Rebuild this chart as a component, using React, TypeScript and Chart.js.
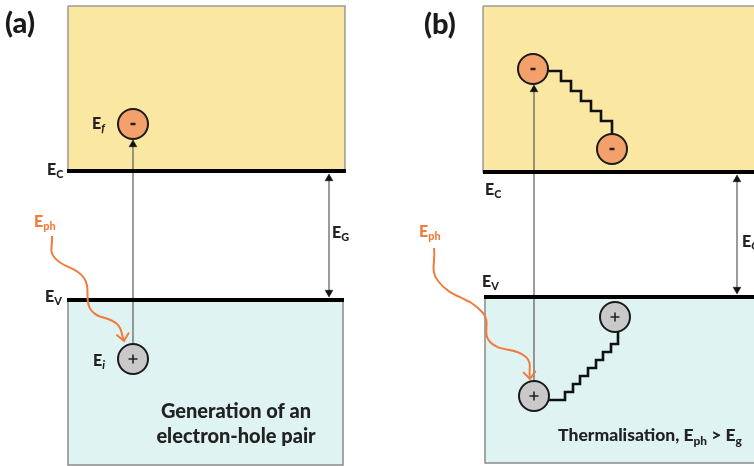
import { useEffect, useRef } from "react";
import { Chart, registerables } from "chart.js";

Chart.register(...registerables);

const WIDTH = 754;
const HEIGHT = 466;
const FONT = "Lato, 'Open Sans', sans-serif";

// Energy bands as [xLeft, xRight, yTop, yBottom] in diagram units
const conductionBands = [
  [68, 345, 6, 171],
  [483, 762, 6, 172],
];
const valenceBands = [
  [68, 343, 300, 465],
  [485, 762, 297, 463],
];

// Band edges E_C and E_V: [xLeft, xRight, y]
const bandEdges = [
  [67, 346, 171],
  [67, 344, 300],
  [483, 760, 172],
  [484, 760, 297],
];

// Electrons and holes
const electronX = [133, 533, 612];
const electronY = [124, 69, 149];
const holeX = [133, 534, 615];
const holeY = [359, 396, 317];

// Excitation arrows (hole -> electron)
const excitationX = [133, 534];
const excitationFrom = [344, 381];
const excitationTo = [140, 85];

// Band-gap double arrows
const gapX = [329, 737];
const gapTop = [174, 175];
const gapBottom = [297, 294];

// Incoming photon paths
const photonPathA = [
  [52, 236], [54, 257], [84, 278], [91, 310], [117, 324], [124, 341],
];
const photonPathB = [
  [434, 248], [438, 281], [483, 313], [490, 342], [526, 357], [530, 379],
];

// Thermalisation staircases
const electronRelaxation = [
  [548, 71], [561, 71], [561, 81], [571, 81], [571, 91], [581, 91],
  [581, 101], [591, 101], [591, 111], [601, 111], [601, 121], [612, 121],
  [612, 134],
];
const holeRelaxation = [
  [549, 400], [565, 400], [565, 392], [573, 392], [573, 384], [580, 384],
  [580, 376], [588, 376], [588, 368], [596, 368], [596, 360], [603, 360],
  [603, 352], [611, 352], [611, 344], [618, 344], [618, 332],
];

// Level labels: position of the baseline start, main letter and subscript
const levelLabels = [
  { x: 92, y: 129, main: "E", sub: "f", italic: true, color: "#222" },
  { x: 47, y: 175, main: "E", sub: "C", italic: false, color: "#222" },
  { x: 34, y: 227, main: "E", sub: "ph", italic: false, color: "#f07c3c" },
  { x: 332, y: 238, main: "E", sub: "G", italic: false, color: "#222" },
  { x: 45, y: 302, main: "E", sub: "V", italic: false, color: "#222" },
  { x: 93, y: 366, main: "E", sub: "i", italic: true, color: "#222" },
  { x: 485, y: 195, main: "E", sub: "C", italic: false, color: "#222" },
  { x: 419, y: 237, main: "E", sub: "ph", italic: false, color: "#f07c3c" },
  { x: 482, y: 287, main: "E", sub: "V", italic: false, color: "#222" },
  { x: 742, y: 247, main: "E", sub: "G", italic: false, color: "#222" },
];

const panelTags = [
  { x: 5, y: 24, text: "(a)" },
  { x: 424, y: 25, text: "(b)" },
];

const captionA = ["Generation of an", "electron-hole pair"];
const captionAX = 236;
const captionAY = [411, 436];

const captionB = [
  { t: "Thermalisation, E" },
  { t: "ph", sub: true },
  { t: " > E" },
  { t: "g", sub: true },
];
const captionBX = 650;
const captionBY = 435;

type P = { x: number; y: number };
const toPts = (arr: number[][]): P[] => arr.map(([x, y]) => ({ x, y }));
const rectPath = (b: number[]) =>
  toPts([
    [b[0], b[2]],
    [b[1], b[2]],
    [b[1], b[3]],
    [b[0], b[3]],
    [b[0], b[2]],
  ]);

type Part = { t: string; sub?: boolean; italic?: boolean };

function drawRich(
  ctx: CanvasRenderingContext2D,
  parts: Part[],
  x: number,
  y: number,
  size: number,
  color: string,
  center: boolean
) {
  const items = parts.map((p) => {
    const fs = p.sub ? size * 0.68 : size;
    const font = `${p.italic ? "italic " : ""}900 ${fs}px ${FONT}`;
    ctx.font = font;
    return { ...p, font, w: ctx.measureText(p.t).width };
  });
  const total = items.reduce((s, it) => s + it.w, 0);
  let cx = center ? x - total / 2 : x;
  ctx.fillStyle = color;
  ctx.textBaseline = "alphabetic";
  ctx.textAlign = "left";
  for (const it of items) {
    ctx.font = it.font;
    ctx.fillText(it.t, cx, it.sub ? y + size * 0.2 : y);
    cx += it.w;
  }
}

const annotationPlugin = {
  id: "diagramAnnotations",
  afterDatasetsDraw(chart: Chart) {
    const ctx = chart.ctx;
    const sx = chart.scales.x;
    const sy = chart.scales.y;
    const px = (v: number) => sx.getPixelForValue(v);
    const py = (v: number) => sy.getPixelForValue(v);
    ctx.save();

    // open chevron heads at the end of each photon path
    ctx.strokeStyle = "#f07c3c";
    ctx.lineWidth = 2;
    ctx.lineCap = "round";
    for (const path of [photonPathA, photonPathB]) {
      const [x1, y1] = path[path.length - 2];
      const [x2, y2] = path[path.length - 1];
      const tx = px(x2);
      const ty = py(y2);
      const ang = Math.atan2(py(y2) - py(y1), px(x2) - px(x1)) * 0.45 + (Math.PI / 2) * 0.55;
      const len = 9;
      ctx.beginPath();
      ctx.moveTo(tx - len * Math.cos(ang - 0.7), ty - len * Math.sin(ang - 0.7));
      ctx.lineTo(tx, ty);
      ctx.lineTo(tx - len * Math.cos(ang + 0.7), ty - len * Math.sin(ang + 0.7));
      ctx.stroke();
    }

    for (const l of levelLabels) {
      drawRich(
        ctx,
        [{ t: l.main }, { t: l.sub, sub: true, italic: l.italic }],
        px(l.x),
        py(l.y),
        16,
        l.color,
        false
      );
    }

    ctx.fillStyle = "#1a1a1a";
    ctx.font = `900 29px ${FONT}`;
    ctx.textBaseline = "middle";
    for (const tag of panelTags) {
      ctx.fillText(tag.text, px(tag.x), py(tag.y));
    }

    captionA.forEach((line, i) => {
      drawRich(ctx, [{ t: line }], px(captionAX), py(captionAY[i]) + 7, 20, "#222", true);
    });
    drawRich(ctx, captionB, px(captionBX), py(captionBY) + 6, 17.5, "#222", true);

    ctx.restore();
  },
};

export default function App() {
  const ref = useRef<HTMLCanvasElement | null>(null);

  useEffect(() => {
    if (!ref.current) return;
    const line = (data: P[], color: string, width: number, order: number, extra: object = {}) => ({
      type: "scatter" as const,
      data,
      showLine: true,
      borderColor: color,
      borderWidth: width,
      pointRadius: 0,
      fill: false,
      order,
      ...extra,
    });

    const datasets: any[] = [];

    conductionBands.forEach((b) => {
      datasets.push(
        line(toPts([[b[0], b[2]], [b[1], b[2]]]), "rgba(0,0,0,0)", 0, 30, {
          fill: { value: b[3] },
          backgroundColor: "#fae8a2",
        })
      );
      datasets.push(line(rectPath(b), "#9a9a9a", 1.5, 29));
    });
    valenceBands.forEach((b) => {
      datasets.push(
        line(toPts([[b[0], b[2]], [b[1], b[2]]]), "rgba(0,0,0,0)", 0, 30, {
          fill: { value: b[3] },
          backgroundColor: "#dff3f3",
        })
      );
      datasets.push(line(rectPath(b), "#8a8a8a", 1.5, 29));
    });

    excitationX.forEach((x, i) => {
      datasets.push(line(toPts([[x, excitationFrom[i]], [x, excitationTo[i] + 4]]), "#5a5a5a", 1.2, 27));
    });
    gapX.forEach((x, i) => {
      datasets.push(line(toPts([[x, gapTop[i] + 4], [x, gapBottom[i] - 4]]), "#5a5a5a", 1.2, 27));
    });

    bandEdges.forEach((e) => {
      datasets.push(line(toPts([[e[0], e[2]], [e[1], e[2]]]), "#000", 4, 25));
    });

    // filled arrowheads: triangles whose tips sit on the arrow ends
    const headR = 4.5;
    const heads: P[] = [];
    const rot: number[] = [];
    excitationX.forEach((x, i) => {
      heads.push({ x, y: excitationTo[i] + headR });
      rot.push(0);
    });
    gapX.forEach((x, i) => {
      heads.push({ x, y: gapTop[i] + headR });
      rot.push(0);
      heads.push({ x, y: gapBottom[i] - headR });
      rot.push(180);
    });
    datasets.push({
      type: "scatter",
      data: heads,
      pointStyle: "triangle",
      pointRadius: headR,
      rotation: rot,
      backgroundColor: "#111",
      borderColor: "#111",
      borderWidth: 0.5,
      order: 20,
    });

    datasets.push(line(toPts(photonPathA), "#f07c3c", 2, 12, { tension: 0.45 }));
    datasets.push(line(toPts(photonPathB), "#f07c3c", 2, 12, { tension: 0.45 }));

    datasets.push(line(toPts(electronRelaxation), "#111", 2.6, 11, { borderJoinStyle: "miter" }));
    datasets.push(line(toPts(holeRelaxation), "#111", 2.6, 11, { borderJoinStyle: "miter" }));

    datasets.push({
      type: "scatter",
      data: electronX.map((x, i) => ({ x, y: electronY[i] })),
      pointRadius: 15,
      backgroundColor: "#f3a06a",
      borderColor: "#1a1a1a",
      borderWidth: 2,
      order: 5,
    });
    datasets.push({
      type: "scatter",
      data: holeX.map((x, i) => ({ x, y: holeY[i] })),
      pointRadius: 15,
      backgroundColor: "#c9c9c9",
      borderColor: "#1a1a1a",
      borderWidth: 2,
      order: 5,
    });
    datasets.push({
      type: "scatter",
      data: electronX.map((x, i) => ({ x, y: electronY[i] })),
      pointStyle: "line",
      pointRadius: 2.5,
      borderColor: "#222",
      borderWidth: 2.5,
      order: 1,
    });
    datasets.push({
      type: "scatter",
      data: holeX.map((x, i) => ({ x, y: holeY[i] })),
      pointStyle: "cross",
      pointRadius: 4.5,
      borderColor: "#222",
      borderWidth: 1.6,
      order: 1,
    });

    const chart = new Chart(ref.current, {
      type: "scatter",
      data: { datasets },
      options: {
        responsive: false,
        animation: false,
        events: [],
        layout: { padding: 0, autoPadding: false },
        plugins: {
          legend: { display: false },
          tooltip: { enabled: false },
        },
        scales: {
          x: { type: "linear", min: 0, max: WIDTH, display: false },
          y: { type: "linear", min: 0, max: HEIGHT, reverse: true, display: false },
        },
      },
      plugins: [annotationPlugin],
    });
    return () => chart.destroy();
  }, []);

  return (
    <div style={{ position: "absolute", left: 0, top: 0, width: WIDTH, height: HEIGHT, background: "#fff" }}>
      <canvas ref={ref} width={WIDTH} height={HEIGHT} style={{ display: "block" }} />
    </div>
  );
}
